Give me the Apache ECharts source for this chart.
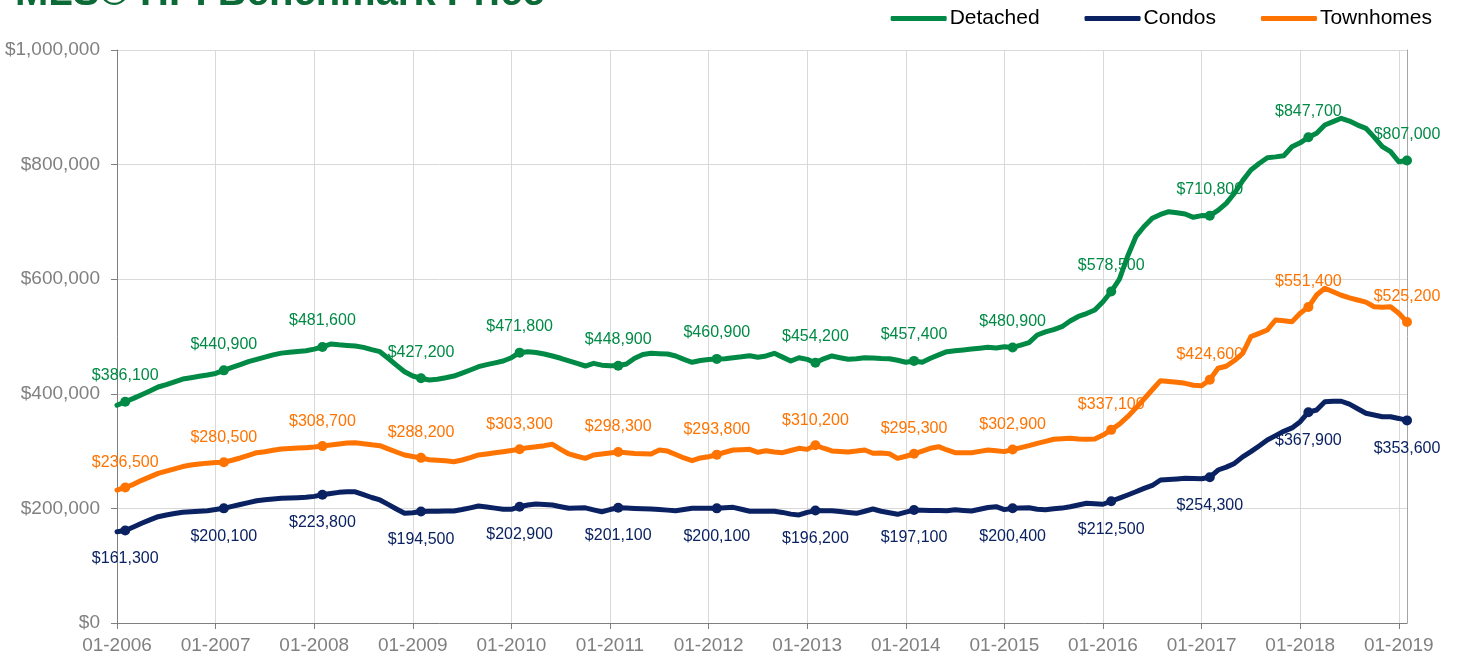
<!DOCTYPE html>
<html>
<head>
<meta charset="utf-8">
<script src="https://cdn.jsdelivr.net/npm/echarts@6/dist/echarts.min.js"></script>
<style>
html,body{margin:0;padding:0;background:#fff;}
#chart{width:1458px;height:660px;}
</style>
</head>
<body>
<div id="chart"></div>
<script>
// Months 01-2006 .. 02-2019
const years = [2006,2007,2008,2009,2010,2011,2012,2013,2014,2015,2016,2017,2018,2019];
const months = [];
years.forEach(y => { for (let m = 1; m <= 12; m++) { if (y === 2019 && m > 2) break; months.push((m < 10 ? '0' + m : '' + m) + '-' + y); } });

const detached = [
  380000, 386100, 392000, 398500, 405000, 411900, 416000, 421000, 425800, 428000, 430500, 432800,
  435500, 440900, 446000, 451000, 456000, 460000, 464000, 468000, 471000, 472500, 474000, 475200,
  478000, 481600, 486900, 485500, 484500, 483400, 481000, 477000, 473500, 462000, 450000, 438600,
  431000, 427200, 424100, 425500, 428000, 431000, 436000, 441500, 447300, 451000, 454000, 457200,
  463000, 471800, 473500, 472000, 469500, 466000, 462000, 457500, 453000, 448500, 453200, 450000,
  449000, 448900, 452000, 462000, 468500, 470700, 470000, 469400, 466000, 460000, 455000, 458000,
  460000, 460900, 461000, 463000, 464500, 466500, 463700, 466000, 470700, 464000, 457200, 463000,
  460000, 454200, 461000, 466000, 463000, 460200, 461000, 463000, 462500, 461500, 461300, 458500,
  455000, 457400, 455000, 462000, 468000, 473500, 475000, 476500, 478200, 479500, 481100, 480000,
  482200, 480900, 485000, 489200, 502600, 508000, 512000, 517100, 527000, 535000, 540000, 546200,
  560700, 578500, 600000, 640000, 674200, 692000, 706300, 713000, 717800, 716000, 713800, 708000,
  711000, 710800, 720000, 732400, 750000, 772000, 790600, 802000, 812000, 813500, 815500, 831200,
  838000, 847700, 854600, 869100, 875000, 880800, 876000, 869000, 863300, 848000, 831200, 822500,
  805000, 807000
];
const condos = [
  159300, 161300, 167500, 174000, 180000, 185500, 188500, 191000, 193200, 194200, 195200, 196000,
  198000, 200100, 203500, 206800, 210000, 213400, 215000, 216500, 217600, 218200, 218800, 219300,
  221000, 223800, 226000, 228000, 229200, 229000, 224000, 219000, 214700, 207000, 199000, 191400,
  192500, 194500, 195000, 195200, 195400, 195400, 198000, 201000, 204200, 202500, 200500, 198400,
  198400, 202900, 206000, 207700, 207000, 206000, 203000, 200200, 200500, 201000, 197500, 194200,
  198000, 201100, 200500, 200000, 199500, 199000, 198000, 197000, 196000, 198000, 200100, 200100,
  200100, 200100, 201000, 201800, 198500, 195000, 195000, 195000, 195000, 193000, 190000, 188500,
  193000, 196200, 196100, 196000, 194500, 193000, 191400, 195000, 199000, 195000, 192500, 189700,
  193500, 197100, 196800, 196500, 196200, 196000, 197500, 196500, 195400, 198500, 201500, 203000,
  197800, 200400, 200700, 201000, 198500, 197500, 199500, 200500, 203000, 206000, 208900, 208000,
  207200, 212500, 218000, 223400, 229000, 235000, 240000, 249600, 250500, 251500, 252500, 252000,
  251700, 254300, 267000, 272000, 278500, 290000, 299000, 309000, 319400, 327000, 334500, 340500,
  351300, 367900, 371700, 386200, 387000, 387000, 382000, 374000, 366000, 363000, 360000, 360000,
  357000, 353600
];
const townhomes = [
  232000, 236500, 242000, 249000, 255000, 261200, 265000, 269000, 273000, 275700, 277500, 279000,
  280000, 280500, 284000, 288000, 292500, 297200, 299000, 301500, 303700, 304500, 305200, 306000,
  307000, 308700, 310500, 312500, 314000, 314700, 313000, 311000, 309400, 304000, 298500, 293200,
  290500, 288200, 285000, 284000, 283000, 281500, 284500, 288500, 293200, 295000, 297000, 299000,
  301000, 303300, 306000, 307500, 309500, 311900, 303000, 295000, 291000, 287400, 293200, 295000,
  296500, 298300, 297000, 296000, 295500, 295000, 301900, 300000, 294000, 288000, 283300, 288000,
  290200, 293800, 298000, 301900, 302500, 303100, 297900, 300700, 298500, 297200, 301000, 304900,
  303000, 310200, 305000, 300200, 299500, 298500, 300000, 301900, 296200, 296500, 295400, 287400,
  291000, 295300, 300000, 304900, 307700, 302000, 297200, 297200, 297200, 299500, 301900, 300500,
  299100, 302900, 306000, 309500, 313500, 317000, 320600, 321500, 322300, 321000, 320600, 321000,
  328000, 337100, 347000, 360000, 375000, 391000, 407000, 422900, 421500, 420000, 418300, 415000,
  414200, 424600, 444500, 448000, 458000, 470700, 499700, 505500, 511300, 528800, 527300, 525800,
  540500, 551400, 572400, 584100, 578000, 572000, 567500, 563700, 560000, 552000, 551000, 552000,
  540500, 525200
];
const yTicks = [0, 200000, 400000, 600000, 800000, 1000000];

const GREEN = '#008A45', NAVY = '#0B2262', ORANGE = '#FF7300';
const money = v => '$' + Number(v).toLocaleString('en-US');

function buildData(arr) {
  return arr.map((v, i) => i % 12 === 1
    ? { value: v, symbol: 'circle', symbolSize: 10, label: { show: true } }
    : { value: v, symbol: 'none' });
}
function mkSeries(name, arr, color, pos, dist) {
  return {
    name: name, type: 'line', data: buildData(arr),
    showSymbol: true, showAllSymbol: true, smooth: false,
    lineStyle: { width: 5, color: color, cap: 'round', join: 'round' },
    itemStyle: { color: color },
    label: { show: false, position: pos, distance: dist, color: color,
             fontSize: 16, fontFamily: 'Liberation Sans, Arial, sans-serif',
             formatter: p => money(p.value) },
    emphasis: { disabled: true },
    animation: false, z: 3
  };
}

const chart = echarts.init(document.getElementById('chart'), null, { renderer: 'canvas' });
chart.setOption({
  animation: false,
  backgroundColor: '#ffffff',
  title: {
    text: 'MLS® HPI Benchmark Price', left: 10, top: -31,
    textStyle: { color: '#0B6A36', fontSize: 40, fontWeight: 'bold', fontFamily: 'Liberation Sans, Arial, sans-serif' }
  },
  legend: {
    top: 3, right: 21, itemWidth: 56, itemHeight: 5, itemGap: 45, icon: 'roundRect',
    textStyle: { color: '#000', fontSize: 21, fontFamily: 'Liberation Sans, Arial, sans-serif', padding: [0, 0, 0, -2] },
    data: ['Detached', 'Condos', 'Townhomes']
  },
  grid: { left: 117, right: 51, top: 50, bottom: 37, containLabel: false },
  xAxis: {
    type: 'category', data: months, boundaryGap: false,
    axisLine: { lineStyle: { color: '#7f7f7f', width: 1 } },
    axisTick: { show: true, length: 6, interval: i => i % 12 === 0, lineStyle: { color: '#7f7f7f' } },
    axisLabel: { interval: i => i % 12 === 0, color: '#808080', fontSize: 19, margin: 13,
                 fontFamily: 'Liberation Sans, Arial, sans-serif' },
    splitLine: { show: true, interval: i => i % 12 === 0, lineStyle: { color: '#d9d9d9', width: 1 } }
  },
  yAxis: [{
    type: 'value', min: yTicks[0], max: yTicks[yTicks.length - 1], interval: 200000,
    axisLine: { show: true, lineStyle: { color: '#7f7f7f', width: 1 } },
    axisTick: { show: true, length: 6, lineStyle: { color: '#7f7f7f' } },
    axisLabel: { color: '#808080', fontSize: 19, margin: 17, formatter: v => money(v),
                 fontFamily: 'Liberation Sans, Arial, sans-serif' },
    splitLine: { show: true, lineStyle: { color: '#d9d9d9', width: 1 } }
  }, {
    type: 'value', position: 'right', min: yTicks[0], max: yTicks[yTicks.length - 1], interval: 200000,
    axisLine: { show: true, lineStyle: { color: '#a6a6a6', width: 1 } },
    axisTick: { show: false }, axisLabel: { show: false }, splitLine: { show: false }
  }],
  series: [
    mkSeries('Detached', detached, GREEN, 'top', 13),
    mkSeries('Condos', condos, NAVY, 'bottom', 15),
    mkSeries('Townhomes', townhomes, ORANGE, 'top', 12)
  ]
});
</script>
</body>
</html>
